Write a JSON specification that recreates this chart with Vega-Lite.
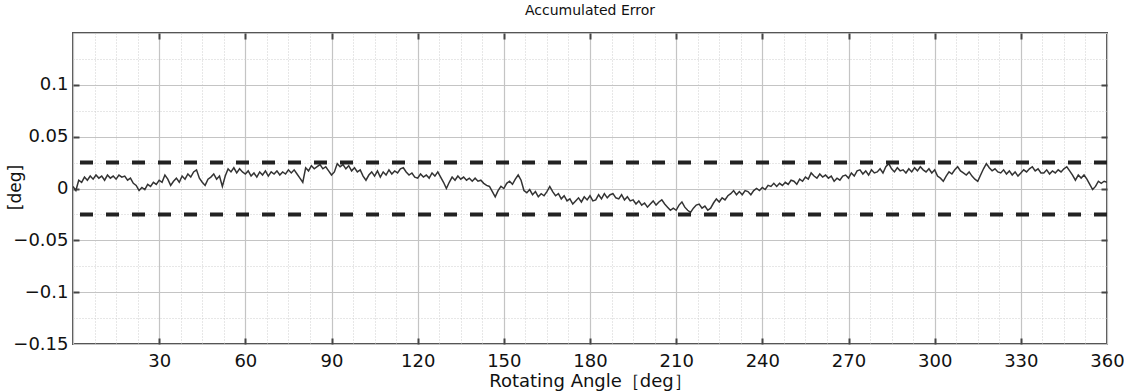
{
  "$schema": "https://vega.github.io/schema/vega-lite/v6.json",
  "width": 1034,
  "height": 311,
  "autosize": {"type": "none"},
  "padding": {"left": 73, "top": 33, "right": 17, "bottom": 47},
  "background": "white",
  "config": {
    "font": "DejaVu Sans",
    "view": {"stroke": "#555555", "strokeWidth": 2}
  },
  "title": {"text": "Accumulated Error", "fontSize": 14, "fontWeight": "normal", "font": "DejaVu Sans", "color": "#111111", "offset": 6},
  "datasets": {
    "err": [
      {"a":0,"e":0.002},{"a":1,"e":-0.002},{"a":2,"e":0.008},{"a":3,"e":0.006},{"a":4,"e":0.011},{"a":5,"e":0.008},{"a":6,"e":0.012},{"a":7,"e":0.009},{"a":8,"e":0.013},{"a":9,"e":0.010},
      {"a":10,"e":0.012},{"a":11,"e":0.008},{"a":12,"e":0.013},{"a":13,"e":0.010},{"a":14,"e":0.012},{"a":15,"e":0.009},{"a":16,"e":0.013},{"a":17,"e":0.011},{"a":18,"e":0.012},{"a":19,"e":0.008},
      {"a":20,"e":0.010},{"a":21,"e":0.005},{"a":22,"e":0.003},{"a":23,"e":-0.002},{"a":24,"e":0.001},{"a":25,"e":-0.001},{"a":26,"e":0.004},{"a":27,"e":0.002},{"a":28,"e":0.006},{"a":29,"e":0.004},
      {"a":30,"e":0.008},{"a":31,"e":0.006},{"a":32,"e":0.013},{"a":33,"e":0.009},{"a":34,"e":0.003},{"a":35,"e":0.007},{"a":36,"e":0.010},{"a":37,"e":0.006},{"a":38,"e":0.012},{"a":39,"e":0.009},
      {"a":40,"e":0.014},{"a":41,"e":0.011},{"a":42,"e":0.016},{"a":43,"e":0.018},{"a":44,"e":0.010},{"a":45,"e":0.006},{"a":46,"e":0.003},{"a":47,"e":0.009},{"a":48,"e":0.011},{"a":49,"e":0.014},
      {"a":50,"e":0.009},{"a":51,"e":0.012},{"a":52,"e":0.002},{"a":53,"e":0.012},{"a":54,"e":0.019},{"a":55,"e":0.016},{"a":56,"e":0.020},{"a":57,"e":0.015},{"a":58,"e":0.019},{"a":59,"e":0.016},
      {"a":60,"e":0.014},{"a":61,"e":0.017},{"a":62,"e":0.012},{"a":63,"e":0.015},{"a":64,"e":0.011},{"a":65,"e":0.016},{"a":66,"e":0.013},{"a":67,"e":0.017},{"a":68,"e":0.012},{"a":69,"e":0.016},
      {"a":70,"e":0.014},{"a":71,"e":0.017},{"a":72,"e":0.013},{"a":73,"e":0.016},{"a":74,"e":0.014},{"a":75,"e":0.018},{"a":76,"e":0.015},{"a":77,"e":0.018},{"a":78,"e":0.014},{"a":79,"e":0.010},
      {"a":80,"e":0.006},{"a":81,"e":0.020},{"a":82,"e":0.017},{"a":83,"e":0.022},{"a":84,"e":0.019},{"a":85,"e":0.021},{"a":86,"e":0.023},{"a":87,"e":0.019},{"a":88,"e":0.021},{"a":89,"e":0.017},
      {"a":90,"e":0.013},{"a":91,"e":0.016},{"a":92,"e":0.024},{"a":93,"e":0.021},{"a":94,"e":0.023},{"a":95,"e":0.019},{"a":96,"e":0.022},{"a":97,"e":0.017},{"a":98,"e":0.020},{"a":99,"e":0.016},
      {"a":100,"e":0.018},{"a":101,"e":0.012},{"a":102,"e":0.008},{"a":103,"e":0.013},{"a":104,"e":0.016},{"a":105,"e":0.012},{"a":106,"e":0.017},{"a":107,"e":0.011},{"a":108,"e":0.016},{"a":109,"e":0.013},
      {"a":110,"e":0.018},{"a":111,"e":0.014},{"a":112,"e":0.017},{"a":113,"e":0.015},{"a":114,"e":0.019},{"a":115,"e":0.020},{"a":116,"e":0.016},{"a":117,"e":0.013},{"a":118,"e":0.015},{"a":119,"e":0.011},
      {"a":120,"e":0.010},{"a":121,"e":0.014},{"a":122,"e":0.011},{"a":123,"e":0.013},{"a":124,"e":0.010},{"a":125,"e":0.015},{"a":126,"e":0.012},{"a":127,"e":0.016},{"a":128,"e":0.011},{"a":129,"e":0.006},
      {"a":130,"e":0.000},{"a":131,"e":0.006},{"a":132,"e":0.011},{"a":133,"e":0.008},{"a":134,"e":0.012},{"a":135,"e":0.009},{"a":136,"e":0.011},{"a":137,"e":0.008},{"a":138,"e":0.010},{"a":139,"e":0.007},
      {"a":140,"e":0.010},{"a":141,"e":0.007},{"a":142,"e":0.008},{"a":143,"e":0.005},{"a":144,"e":0.003},{"a":145,"e":0.002},{"a":146,"e":-0.003},{"a":147,"e":-0.008},{"a":148,"e":-0.002},{"a":149,"e":0.002},
      {"a":150,"e":0.000},{"a":151,"e":0.005},{"a":152,"e":0.007},{"a":153,"e":0.004},{"a":154,"e":0.009},{"a":155,"e":0.013},{"a":156,"e":0.008},{"a":157,"e":-0.002},{"a":158,"e":-0.004},{"a":159,"e":-0.001},
      {"a":160,"e":-0.006},{"a":161,"e":-0.003},{"a":162,"e":-0.008},{"a":163,"e":-0.005},{"a":164,"e":-0.007},{"a":165,"e":-0.003},{"a":166,"e":0.002},{"a":167,"e":-0.003},{"a":168,"e":-0.007},{"a":169,"e":-0.005},
      {"a":170,"e":-0.010},{"a":171,"e":-0.007},{"a":172,"e":-0.012},{"a":173,"e":-0.010},{"a":174,"e":-0.015},{"a":175,"e":-0.012},{"a":176,"e":-0.009},{"a":177,"e":-0.013},{"a":178,"e":-0.008},{"a":179,"e":-0.011},
      {"a":180,"e":-0.007},{"a":181,"e":-0.012},{"a":182,"e":-0.011},{"a":183,"e":-0.006},{"a":184,"e":-0.010},{"a":185,"e":-0.005},{"a":186,"e":-0.009},{"a":187,"e":-0.006},{"a":188,"e":-0.005},{"a":189,"e":-0.009},
      {"a":190,"e":-0.010},{"a":191,"e":-0.006},{"a":192,"e":-0.011},{"a":193,"e":-0.008},{"a":194,"e":-0.012},{"a":195,"e":-0.011},{"a":196,"e":-0.015},{"a":197,"e":-0.012},{"a":198,"e":-0.016},{"a":199,"e":-0.014},
      {"a":200,"e":-0.018},{"a":201,"e":-0.015},{"a":202,"e":-0.012},{"a":203,"e":-0.016},{"a":204,"e":-0.013},{"a":205,"e":-0.011},{"a":206,"e":-0.015},{"a":207,"e":-0.018},{"a":208,"e":-0.021},{"a":209,"e":-0.019},
      {"a":210,"e":-0.021},{"a":211,"e":-0.016},{"a":212,"e":-0.013},{"a":213,"e":-0.018},{"a":214,"e":-0.021},{"a":215,"e":-0.023},{"a":216,"e":-0.019},{"a":217,"e":-0.016},{"a":218,"e":-0.015},{"a":219,"e":-0.019},
      {"a":220,"e":-0.017},{"a":221,"e":-0.021},{"a":222,"e":-0.019},{"a":223,"e":-0.014},{"a":224,"e":-0.010},{"a":225,"e":-0.013},{"a":226,"e":-0.009},{"a":227,"e":-0.011},{"a":228,"e":-0.007},{"a":229,"e":-0.005},
      {"a":230,"e":-0.002},{"a":231,"e":-0.006},{"a":232,"e":-0.003},{"a":233,"e":-0.006},{"a":234,"e":-0.002},{"a":235,"e":-0.003},{"a":236,"e":-0.006},{"a":237,"e":-0.002},{"a":238,"e":0.000},{"a":239,"e":-0.002},
      {"a":240,"e":0.001},{"a":241,"e":-0.001},{"a":242,"e":0.003},{"a":243,"e":0.002},{"a":244,"e":0.005},{"a":245,"e":0.002},{"a":246,"e":0.005},{"a":247,"e":0.003},{"a":248,"e":0.006},{"a":249,"e":0.004},
      {"a":250,"e":0.008},{"a":251,"e":0.007},{"a":252,"e":0.004},{"a":253,"e":0.009},{"a":254,"e":0.007},{"a":255,"e":0.011},{"a":256,"e":0.009},{"a":257,"e":0.015},{"a":258,"e":0.012},{"a":259,"e":0.010},
      {"a":260,"e":0.014},{"a":261,"e":0.011},{"a":262,"e":0.013},{"a":263,"e":0.010},{"a":264,"e":0.012},{"a":265,"e":0.007},{"a":266,"e":0.010},{"a":267,"e":0.008},{"a":268,"e":0.012},{"a":269,"e":0.013},
      {"a":270,"e":0.010},{"a":271,"e":0.015},{"a":272,"e":0.012},{"a":273,"e":0.017},{"a":274,"e":0.018},{"a":275,"e":0.014},{"a":276,"e":0.017},{"a":277,"e":0.013},{"a":278,"e":0.018},{"a":279,"e":0.015},
      {"a":280,"e":0.016},{"a":281,"e":0.019},{"a":282,"e":0.015},{"a":283,"e":0.021},{"a":284,"e":0.024},{"a":285,"e":0.019},{"a":286,"e":0.016},{"a":287,"e":0.020},{"a":288,"e":0.017},{"a":289,"e":0.018},
      {"a":290,"e":0.015},{"a":291,"e":0.019},{"a":292,"e":0.016},{"a":293,"e":0.020},{"a":294,"e":0.017},{"a":295,"e":0.021},{"a":296,"e":0.018},{"a":297,"e":0.016},{"a":298,"e":0.019},{"a":299,"e":0.015},
      {"a":300,"e":0.018},{"a":301,"e":0.012},{"a":302,"e":0.010},{"a":303,"e":0.007},{"a":304,"e":0.012},{"a":305,"e":0.016},{"a":306,"e":0.014},{"a":307,"e":0.018},{"a":308,"e":0.021},{"a":309,"e":0.017},
      {"a":310,"e":0.015},{"a":311,"e":0.013},{"a":312,"e":0.016},{"a":313,"e":0.012},{"a":314,"e":0.009},{"a":315,"e":0.007},{"a":316,"e":0.013},{"a":317,"e":0.019},{"a":318,"e":0.024},{"a":319,"e":0.020},
      {"a":320,"e":0.017},{"a":321,"e":0.019},{"a":322,"e":0.016},{"a":323,"e":0.015},{"a":324,"e":0.018},{"a":325,"e":0.014},{"a":326,"e":0.017},{"a":327,"e":0.013},{"a":328,"e":0.016},{"a":329,"e":0.012},
      {"a":330,"e":0.015},{"a":331,"e":0.018},{"a":332,"e":0.016},{"a":333,"e":0.019},{"a":334,"e":0.021},{"a":335,"e":0.017},{"a":336,"e":0.019},{"a":337,"e":0.015},{"a":338,"e":0.015},{"a":339,"e":0.018},
      {"a":340,"e":0.014},{"a":341,"e":0.017},{"a":342,"e":0.015},{"a":343,"e":0.018},{"a":344,"e":0.016},{"a":345,"e":0.019},{"a":346,"e":0.021},{"a":347,"e":0.017},{"a":348,"e":0.013},{"a":349,"e":0.008},
      {"a":350,"e":0.013},{"a":351,"e":0.010},{"a":352,"e":0.013},{"a":353,"e":0.009},{"a":354,"e":0.004},{"a":355,"e":-0.001},{"a":356,"e":0.002},{"a":357,"e":0.007},{"a":358,"e":0.005},{"a":359,"e":0.007},
      {"a":360,"e":0.006}
    ],
    "limits": [{"lim": 0.025}, {"lim": -0.025}]
  },
  "resolve": {"axis": {"x": "independent", "y": "independent"}},
  "layer": [
    {
      "data": {"name": "err"},
      "mark": {"type": "line", "color": "#333333", "strokeWidth": 1.5, "clip": true},
      "encoding": {
        "x": {
          "field": "a", "type": "quantitative",
          "scale": {"domain": [0, 360], "nice": false, "zero": false},
          "axis": {
            "orient": "bottom",
            "title": "Rotating Angle［deg］",
            "titleFont": "DejaVu Sans", "titleFontSize": 18, "titleFontWeight": "normal", "titleColor": "#111111",
            "titleX": 517, "titleY": 37, "titleAlign": "center", "titleBaseline": "middle",
            "values": [0,7.5,15,22.5,30,37.5,45,52.5,60,67.5,75,82.5,90,97.5,105,112.5,120,127.5,135,142.5,150,157.5,165,172.5,180,187.5,195,202.5,210,217.5,225,232.5,240,247.5,255,262.5,270,277.5,285,292.5,300,307.5,315,322.5,330,337.5,345,352.5,360],
            "labelExpr": "(datum.value % 30 === 0 && datum.value > 0) ? datum.value : ''",
            "labelFont": "DejaVu Sans", "labelFontSize": 18, "labelColor": "#111111", "labelPadding": 14, "labelFlush": false, "labelOverlap": false,
            "domain": false,
            "tickSize": -6, "tickWidth": 2, "tickColor": "#444444",
            "tickOpacity": {"condition": {"test": "datum.value % 30 === 0 && datum.value > 0 && datum.value < 360", "value": 1}, "value": 0},
            "grid": true,
            "gridColor": {"condition": {"test": "datum.value % 30 === 0", "value": "#c4c4c4"}, "value": "#cfcfcf"},
            "gridWidth": {"condition": {"test": "datum.value % 30 === 0", "value": 1.2}, "value": 1},
            "gridDash": {"condition": {"test": "datum.value % 30 === 0", "value": []}, "value": [1, 2]}
          }
        },
        "y": {
          "field": "e", "type": "quantitative",
          "scale": {"domain": [-0.15, 0.15], "nice": false, "zero": false},
          "axis": {
            "orient": "left",
            "title": "[deg]",
            "titleFont": "DejaVu Sans", "titleFontSize": 17, "titleFontWeight": "normal", "titleColor": "#111111",
            "titleX": -58, "titleY": 154, "titleAngle": 270, "titleAlign": "center", "titleBaseline": "middle",
            "values": [-0.15,-0.125,-0.1,-0.075,-0.05,-0.025,0,0.025,0.05,0.075,0.1,0.125,0.15],
            "labelExpr": "(abs(round(datum.value*20) - datum.value*20) < 0.001 && datum.value < 0.14) ? format(datum.value, '~g') : ''",
            "labelFont": "DejaVu Sans", "labelFontSize": 18, "labelColor": "#111111", "labelPadding": 11, "labelFlush": false, "labelOverlap": false,
            "domain": false,
            "tickSize": -6, "tickWidth": 2, "tickColor": "#444444",
            "tickOpacity": {"condition": {"test": "abs(round(datum.value*20) - datum.value*20) < 0.001 && abs(datum.value) < 0.14", "value": 1}, "value": 0},
            "grid": true,
            "gridColor": {"condition": {"test": "abs(round(datum.value*20) - datum.value*20) < 0.001", "value": "#c4c4c4"}, "value": "#cfcfcf"},
            "gridWidth": {"condition": {"test": "abs(round(datum.value*20) - datum.value*20) < 0.001", "value": 1.2}, "value": 1},
            "gridDash": {"condition": {"test": "abs(round(datum.value*20) - datum.value*20) < 0.001", "value": []}, "value": [1, 2]}
          }
        }
      }
    },
    {
      "data": {"name": "limits"},
      "mark": {"type": "rule", "color": "#222222", "strokeWidth": 4, "strokeDash": [13, 13]},
      "encoding": {
        "y": {
          "field": "lim", "type": "quantitative",
          "scale": {"domain": [-0.15, 0.15], "nice": false, "zero": false},
          "axis": {
            "orient": "right", "title": null, "labels": false, "grid": false, "domain": false,
            "values": [-0.1, -0.05, 0, 0.05, 0.1],
            "tickSize": -6, "tickWidth": 2, "tickColor": "#444444"
          }
        }
      }
    },
    {
      "data": {"name": "limits"},
      "mark": {"type": "rule", "opacity": 0},
      "encoding": {
        "x": {
          "datum": 0, "type": "quantitative",
          "scale": {"domain": [0, 360], "nice": false, "zero": false},
          "axis": {
            "orient": "top", "title": null, "labels": false, "grid": false, "domain": false,
            "values": [30, 60, 90, 120, 150, 180, 210, 240, 270, 300, 330],
            "tickSize": -6, "tickWidth": 2, "tickColor": "#444444"
          }
        }
      }
    }
  ]
}
